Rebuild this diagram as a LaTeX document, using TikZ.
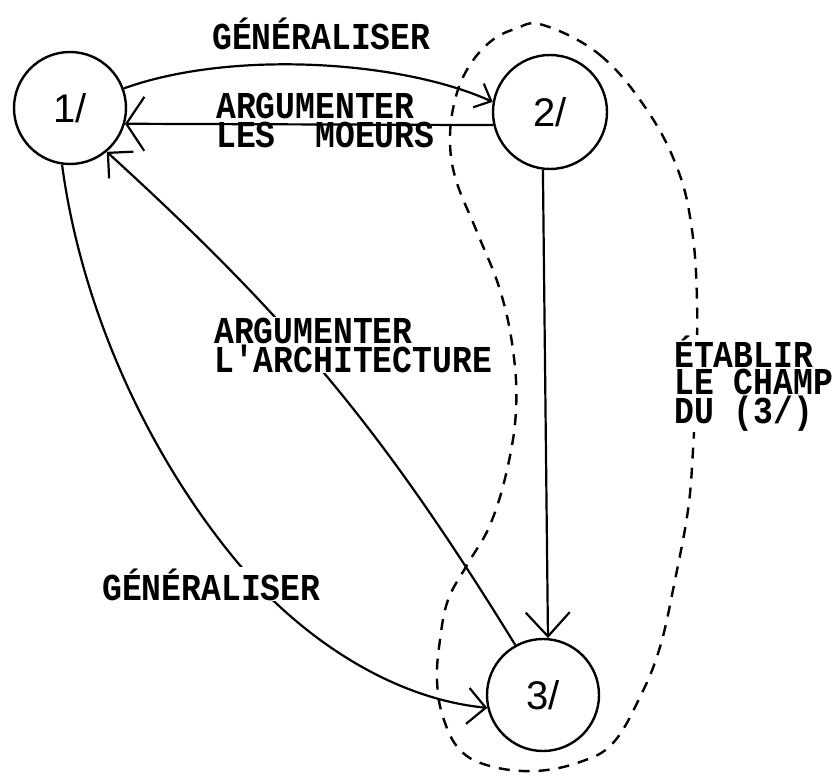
\documentclass[tikz,border=0pt]{standalone}
\usepackage{fontspec}
\newfontfamily\tw[FakeStretch=0.87]{Liberation Mono Bold}
\newfontfamily\hand{Liberation Sans}
\usetikzlibrary{arrows.meta}
\begin{document}
\begin{tikzpicture}[x=1pt,y=1pt,
  state/.style={circle,draw,line width=2.4pt,minimum size=112pt,inner sep=0pt,
    font=\hand\fontsize{40}{40}\selectfont},
  lbl/.style={font=\tw\fontsize{38}{29}\selectfont,inner sep=1pt,
    align=left,anchor=base west},
  tight/.style={font=\tw\fontsize{38}{27}\selectfont},
  hide/.style={fill=white},
  link/.style={line width=2.2pt,
    -{Straight Barb[length=18pt,width=36pt,line width=2.2pt]}},
  champ/.style={line width=2.4pt,dash pattern=on 11pt off 9pt}
]
\useasboundingbox (0,0) rectangle (833,-776);

% the three states
\node[state] (n1) at (70,-108) {1/};
\node[state,minimum size=114pt] (n2) at (550,-112) {2/};
\node[state] (n3) at (543,-695) {3/};

% dashed loop round states 2 and 3
\draw[champ] plot[smooth cycle, tension=0.65] coordinates {
  (543,-25) (600,-55) (647,-110) (678,-170) (692,-230) (697,-300)
  (696,-380) (693,-450) (688,-510) (675,-580) (660,-647) (640,-697)
  (613,-743) (580,-762) (535,-771) (490,-766) (460,-750) (443,-717)
  (437,-680) (440,-640) (448,-600) (467,-565) (490,-525) (507,-470)
  (516,-410) (513,-350) (500,-290) (477,-232) (456,-180) (450,-140)
  (455,-100) (468,-68) (490,-42) (515,-29)};

% connectors
\draw[link,-{Straight Barb[length=14pt,width=26pt,line width=2.2pt]}]
  (n1.20) .. controls (230,-50) and (400,-60) .. (n2.170);
\draw[link,-{Straight Barb[length=18pt,width=54pt,line width=2.2pt]}]
  (n2.193) -- (n1.-16);
\draw[link,-{Straight Barb[length=24pt,width=44pt,line width=2.2pt]}]
  (n2.263) -- (n3.85);
\draw[link] (n3.119) to[bend right=8] (n1.-50);
\coordinate (gbend) at (233,-557);
\draw[link] (n1.262) .. controls (81,-306) and (145,-449) .. (gbend)
  .. controls (296,-634) and (388,-698) .. (n3.193);

% labels (a multi-line node sits on the baseline of its last line)
\node[lbl] (g1) at (211,-50) {GÉNÉRALISER};
\node[lbl] (m) at (215,-147) {ARGUMENTER\\LES~~MOEURS};
\node[lbl,hide] (a) at (213,-372) {ARGUMENTER\\L'ARCHITECTURE};
\node[lbl,tight,hide] (e) at (673,-423) {ÉTABLIR\\LE CHAMP\\DU (3/)};
\node[lbl,hide] (g2) at (101,-600) {GÉNÉRALISER};
\end{tikzpicture}
\end{document}
